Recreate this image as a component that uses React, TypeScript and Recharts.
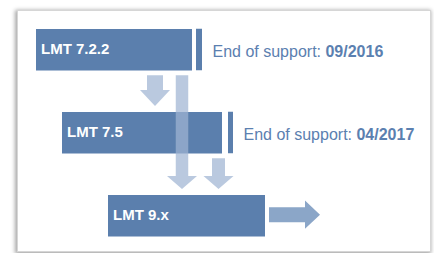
import { Bar, ComposedChart, ReferenceArea, XAxis, YAxis } from 'recharts';

// release boxes along the timeline (x in timeline units, one row per release)
const releases = ['LMT 7.2.2', 'LMT 7.5', 'LMT 9.x'];
const releaseStart = [36, 62, 108];
const releaseEnd = [192, 222, 265];

// end-of-support markers
const supportDates = ['09/2016', '04/2017'];
const supportStart = [196, 228];
const supportEnd = [202, 233];

// upgrade paths: from row -> to row, at a timeline position
const upgradeFrom = [0, 0, 1];
const upgradeTo = [1, 2, 2];
const upgradeAt = [155, 182, 218.5];

// continuation arrow after the newest release
const outlookStart = 269;
const outlookEnd = 320;

const data = releases.map((name, i) => ({
  name,
  row: i,
  range: [releaseStart[i], releaseEnd[i]],
}));

const BOX = '#5b7fad';
const TEXT = '#5b80b0';
const ARROW = '#a0b4d3';
const FONT = '"Liberation Sans", Arial, sans-serif';
const HALF = 0.25;
const GAP_TOP = 0.06;
const GAP_BOTTOM = 0.07;
const shaftWidths = [16, 12.5, 13];
const headLengths = [16, 13, 13];

function DownArrow(props: any, shaft: number, head: number) {
  const { x, y, width, height } = props;
  const cx = x + width / 2;
  const hy = y + height - head;
  const pts = [
    [cx - shaft / 2, y],
    [cx + shaft / 2, y],
    [cx + shaft / 2, hy],
    [x + width, hy],
    [cx, y + height],
    [x, hy],
    [cx - shaft / 2, hy],
  ]
    .map((p) => p.join(','))
    .join(' ');
  return <polygon points={pts} fill={ARROW} fillOpacity={0.72} />;
}

function RightArrow(props: any) {
  const { x, y, width, height } = props;
  const cy = y + height / 2;
  const shaft = 15;
  const hx = x + width - 15;
  const pts = [
    [x, cy - shaft / 2],
    [hx, cy - shaft / 2],
    [hx, y],
    [x + width, cy],
    [hx, y + height],
    [hx, cy + shaft / 2],
    [x, cy + shaft / 2],
  ]
    .map((p) => p.join(','))
    .join(' ');
  return <polygon points={pts} fill="#8ba6c8" />;
}

function ReleaseBox(p: any) {
  return (
    <g>
      <rect x={p.x} y={p.y} width={p.width} height={p.height} fill={BOX} />
      <text
        x={p.x + 5}
        y={p.y + p.height / 2 + 4}
        fill="#fff"
        fontFamily={FONT}
        fontWeight="bold"
        fontSize={15}
      >
        {p.name}
      </text>
    </g>
  );
}

export default function App() {
  return (
    <div
      style={{
        position: 'fixed',
        left: 0,
        top: 0,
        width: 434,
        height: 253,
        overflow: 'hidden',
        background: '#fff',
      }}
    >
      <div
        style={{
          position: 'absolute',
          left: 17,
          top: 10,
          width: 412,
          height: 240,
          border: '1px solid #d6d6d6',
          boxShadow: '-1px 1px 4px 1px rgba(0,0,0,0.35)',
          background: '#fff',
        }}
      />
      <div style={{ position: 'absolute', left: 0, top: 0 }}>
        <ComposedChart
          width={434}
          height={257}
          data={data}
          layout="vertical"
          margin={{ top: 8, right: 0, bottom: 0, left: 0 }}
        >
          <XAxis type="number" domain={[0, 434]} hide />
          <YAxis type="number" dataKey="row" domain={[-0.5, 2.5]} hide />
          <Bar
            dataKey="range"
            barSize={41.5}
            isAnimationActive={false}
            shape={ReleaseBox}
          />
          {supportDates.map((date, i) => (
            <ReferenceArea
              key={date}
              x1={supportStart[i]}
              x2={supportEnd[i]}
              y1={i - HALF}
              y2={i + HALF}
              shape={(p: any) => (
                <g>
                  <rect x={p.x} y={p.y} width={p.width} height={p.height} fill={BOX} />
                  <text
                    x={p.x + p.width + 10.5}
                    y={p.y + p.height / 2 + 7.5}
                    fill={TEXT}
                    fontFamily={FONT}
                    fontSize={16}
                  >
                    End of support: <tspan fontWeight="bold">{date}</tspan>
                  </text>
                </g>
              )}
            />
          ))}
          {upgradeAt.map((at, i) => (
            <ReferenceArea
              key={i}
              x1={at - 15}
              x2={at + 15}
              y1={upgradeFrom[i] + HALF + GAP_TOP}
              y2={upgradeTo[i] - HALF - GAP_BOTTOM}
              zIndex={1000}
              shape={(p: any) => DownArrow(p, shaftWidths[i], headLengths[i])}
            />
          ))}
          <ReferenceArea
            x1={outlookStart}
            x2={outlookEnd}
            y1={2 - 0.18}
            y2={2 + 0.16}
            shape={RightArrow}
          />
        </ComposedChart>
      </div>
    </div>
  );
}
